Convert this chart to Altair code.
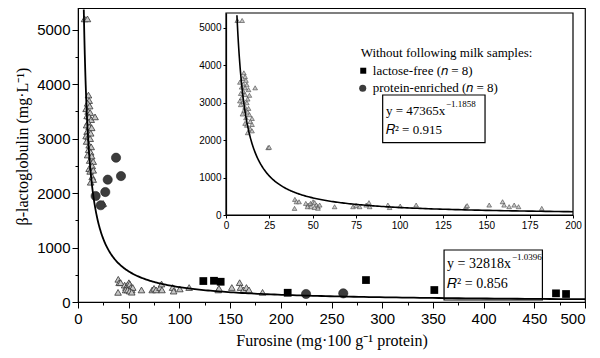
import altair as alt
import pandas as pd

# ---------------- data ----------------
# regular milk samples (triangles), furosine vs beta-lactoglobulin
tri_x = [6.5, 9.3,
         10.3, 11.0, 9.5, 11.5, 8.0, 10.0, 12.0, 9.0, 11.0, 13.0, 10.0, 8.5, 11.0, 13.5,
         9.0, 12.5, 8.0, 10.0, 12.0, 8.5, 11.0, 13.0, 10.5, 12.5, 9.5, 13.5, 11.5, 15.0,
         11.0, 14.0, 12.0, 15.0, 14.0, 15.0, 12.5, 16.8,
         24.3, 24.9,
         39.7, 40.6, 42.1, 39.5, 46.0, 47.3, 48.7, 50.2, 51.1, 52.1, 53.0, 54.0, 47.0, 49.0,
         51.0, 53.0, 62.6, 73.2, 75.0, 77.0, 80.8, 82.4, 82.8, 93.3, 94.3, 100.4, 109.6,
         138.3, 139.0, 151.7, 159.4, 160.3, 163.2, 166.1, 168.6, 182.0]
tri_y = [5200, 5200,
         3800, 3700, 3650, 3600, 3550, 3500, 3480, 3420, 3400, 3350, 3300, 3250, 3220, 3200,
         3130, 3100, 3050, 3030, 3000, 2950, 2880, 2850, 2800, 2750, 2700, 2680, 2600, 2580,
         2450, 2500, 2400, 2420, 2300, 2250, 2200, 3400,
         1800, 1810,
         417, 354, 354, 177, 310, 266, 310, 354, 330, 266, 222, 266, 221, 221,
         200, 180, 221, 222, 250, 222, 266, 330, 222, 266, 200, 240, 266,
         222, 250, 266, 355, 266, 222, 266, 222, 177]

# lactose-free samples (squares)
lf_x = [123.6, 134.1, 140.7, 206.8, 284.0, 351.4, 471.4, 481.3]
lf_y = [385, 390, 372, 170, 403, 220, 159, 147]

# protein-enriched samples (circles)
pe_x = [37.5, 42.4, 29.3, 26.9, 17.4, 22.4, 224.9, 261.6]
pe_y = [2650, 2313, 2247, 2020, 1947, 1777, 147, 159]

# power-law fits
main_a, main_b = 32818, -1.0396
inset_a, inset_b = 47365, -1.1858

main_x_ticks = list(range(0, 501, 25))
main_y_ticks = list(range(0, 5001, 500))
inset_x_ticks = list(range(0, 201, 25))
inset_y_ticks = list(range(0, 5001, 1000))

# ---------------- scales & axes ----------------
SANS = "Liberation Sans"
SERIF = "Liberation Serif"

mx = alt.Scale(domain=[0, 500], nice=False, zero=False)
my = alt.Scale(domain=[0, 5400], nice=False, zero=False)
ix = alt.Scale(domain=[0, 200], range=[148, 495], nice=False, zero=False)
iy = alt.Scale(domain=[0, 5400], range=[207, 5], nice=False, zero=False)

main_xaxis = alt.Axis(
    orient="bottom",
    values=main_x_ticks, format="d", title="Furosine (mg·100 g⁻¹ protein)",
    labelExpr="datum.value % 50 === 0 ? datum.label : ''",
    labelAlign={"condition": {"test": "datum.value === 500", "value": "right"}, "value": "center"},
    tickSize={"condition": {"test": "datum.value % 50 === 0", "value": 6}, "value": 3},
    labelFont=SANS, labelFontSize=15, labelPadding=3, labelOverlap=False, labelFlush=False,
    titleFont=SERIF, titleFontSize=16, titleFontWeight="normal", titleY=30,
    titleBaseline="top", grid=False, domainColor="black", tickColor="black",
    labelColor="black", titleColor="black")
main_yaxis = alt.Axis(
    orient="left",
    values=main_y_ticks, format="d", title="β-lactoglobulin (mg·L⁻¹)",
    labelExpr="datum.value % 1000 === 0 ? datum.label : ''",
    tickSize={"condition": {"test": "datum.value % 1000 === 0", "value": 6}, "value": 3},
    labelFont=SANS, labelFontSize=15, labelPadding=2, labelOverlap=False, labelFlush=False,
    titleFont=SERIF, titleFontSize=16, titleFontWeight="normal", titleX=-56, titleY=138,
    titleBaseline="middle", titleAngle=-90, grid=False, domainColor="black",
    tickColor="black", labelColor="black", titleColor="black")
inset_xaxis = alt.Axis(
    orient="bottom", zindex=2,
    values=inset_x_ticks, format="d", title=None, offset=-87, tickSize=3,
    labelFont=SANS, labelFontSize=10, labelPadding=2, labelOverlap=False, labelFlush=False,
    grid=False, domainColor="black", tickColor="black", labelColor="black", domainWidth=1.2)
inset_yaxis = alt.Axis(
    orient="left", zindex=2,
    values=inset_y_ticks, format="d", title=None, offset=-148, tickSize=3,
    labelFont=SANS, labelFontSize=10, labelPadding=2, labelOverlap=False, labelFlush=False,
    grid=False, domainColor="black", tickColor="black", labelColor="black", domainWidth=1.2)


def X(s, a, field="x"):
    return alt.X(f"{field}:Q", scale=s, axis=a)


def Y(s, a, field="y"):
    return alt.Y(f"{field}:Q", scale=s, axis=a)


tri = pd.DataFrame({"x": tri_x, "y": tri_y})
tri_in = tri[tri["x"] <= 200]
lf = pd.DataFrame({"x": lf_x, "y": lf_y})
pe = pd.DataFrame({"x": pe_x, "y": pe_y})

# ---------------- main chart ----------------
m_tri = alt.Chart(tri).mark_point(
    shape="triangle-up", filled=True, fill="#c6c6c6", stroke="#333333",
    strokeWidth=0.8, size=44, opacity=1).encode(x=X(mx, main_xaxis), y=Y(my, main_yaxis))
m_lf = alt.Chart(lf).mark_square(color="black", size=60, opacity=1).encode(
    x=X(mx, main_xaxis), y=Y(my, main_yaxis))
m_pe = alt.Chart(pe).mark_circle(color="#3c3c3c", stroke="#222222", strokeWidth=0.6,
                                 size=85, opacity=1).encode(
    x=X(mx, main_xaxis), y=Y(my, main_yaxis))
m_curve = alt.Chart(alt.sequence(0, 1.0001, 0.004, as_="t")).transform_calculate(
    x="5.7*pow(500/5.7, datum.t)"
).transform_calculate(
    y=f"{main_a}*pow(datum.x, {main_b})"
).mark_line(color="black", strokeWidth=1.8).encode(x=X(mx, main_xaxis), y=Y(my, main_yaxis))

m_box = alt.Chart(pd.DataFrame({"x": [361], "x2": [458], "y": [37], "y2": [955]})).mark_rect(
    fill="white", stroke="black", strokeWidth=1.2).encode(
    x=X(mx, main_xaxis), x2="x2:Q", y=Y(my, main_yaxis), y2="y2:Q")

m_txt = alt.Chart(pd.DataFrame({
    "x": [364, 428, 364],
    "y": [698, 830, 330],
    "t": ["y = 32818x", "−1.0396", "𝑅² = 0.856"],
    "s": [14, 9, 14],
})).mark_text(font=SERIF, align="left", baseline="middle", color="black").encode(
    x=X(mx, main_xaxis), y=Y(my, main_yaxis), text="t:N",
    size=alt.Size("s:Q", scale=None, legend=None))

main = alt.layer(m_tri, m_lf, m_pe, m_box, m_curve, m_txt)

# ---------------- inset ----------------
i_frame = alt.Chart(pd.DataFrame({"x": [0], "x2": [200], "y": [0], "y2": [5400]})).mark_rect(
    fill="white", stroke="black", strokeWidth=1.2).encode(
    x=X(ix, inset_xaxis), x2="x2:Q", y=Y(iy, inset_yaxis), y2="y2:Q")
i_tri = alt.Chart(tri_in).mark_point(
    shape="triangle-up", filled=True, fill="#c6c6c6", stroke="#444444",
    strokeWidth=0.6, size=22, opacity=1).encode(x=X(ix, inset_xaxis), y=Y(iy, inset_yaxis))
i_curve = alt.Chart(alt.sequence(0, 1.0001, 0.004, as_="t")).transform_calculate(
    x="6.3*pow(200/6.3, datum.t)"
).transform_calculate(
    y=f"{inset_a}*pow(datum.x, {inset_b})"
).mark_line(color="black", strokeWidth=1.6).encode(x=X(ix, inset_xaxis), y=Y(iy, inset_yaxis))

i_box = alt.Chart(pd.DataFrame({"x": [90.3], "x2": [149.3], "y": [1933], "y2": [3208]})).mark_rect(
    fill="white", stroke="black", strokeWidth=1.2).encode(
    x=X(ix, inset_xaxis), x2="x2:Q", y=Y(iy, inset_yaxis), y2="y2:Q")

i_txt = alt.Chart(pd.DataFrame({
    "x": [77.6, 84.6, 84.6, 92.2, 126.8, 92.2],
    "y": [4338, 3857, 3387, 2780, 2967, 2272],
    "t": ["Without following milk samples:", "lactose-free (𝑛 = 8)",
          "protein-enriched (𝑛 = 8)", "y = 47365x", "−1.1858", "𝑅² = 0.915"],
    "s": [13, 13, 13, 13, 9, 13],
})).mark_text(font=SERIF, align="left", baseline="middle", color="black").encode(
    x=X(ix, inset_xaxis), y=Y(iy, inset_yaxis), text="t:N",
    size=alt.Size("s:Q", scale=None, legend=None))

i_sq = alt.Chart(pd.DataFrame({"x": [79.1], "y": [3857]})).mark_square(
    color="black", size=36, opacity=1).encode(x=X(ix, inset_xaxis), y=Y(iy, inset_yaxis))
i_ci = alt.Chart(pd.DataFrame({"x": [78.8], "y": [3387]})).mark_circle(
    color="#3c3c3c", size=50, opacity=1).encode(x=X(ix, inset_xaxis), y=Y(iy, inset_yaxis))

inset = alt.layer(i_frame, i_tri, i_curve, i_box, i_txt, i_sq, i_ci)

chart = alt.layer(main, inset).resolve_scale(
    x="independent", y="independent", size="independent"
).properties(
    width=507, height=294,
    autosize=alt.AutoSizeParams(type="none"),
    padding={"left": 70, "top": 0, "right": 7, "bottom": 48},
    background="white",
).configure_view(stroke="black", strokeWidth=1.2)

chart.save("out.html", embed_options={"renderer": "svg", "actions": False})
